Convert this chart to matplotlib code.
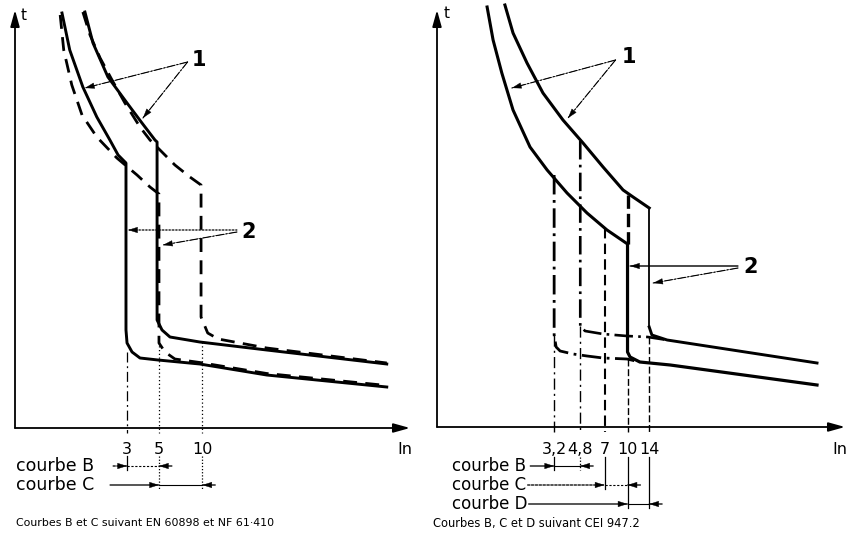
import matplotlib
matplotlib.use("Agg")
import matplotlib.pyplot as plt
import numpy as np

W, H, DPI = 852, 548, 100
plt.rcParams['font.family'] = ['DejaVu Sans']

# ---------------- left diagram: curves B and C (EN 60898 solid, NF C 61-410 dashed) ----------------
left_ticks = [3, 5, 10]
left_tick_labels = ["3", "5", "10"]

# current in multiples of In (log axis), tripping time in relative units
en_b_in = [1.06, 1.20, 1.48, 1.85, 2.28, 2.60, 2.95, 2.95, 3.00, 3.25, 3.69, 4.92, 9.6, 28.0, 191.0]
en_b_t = [415, 378, 341, 311, 288, 273, 265, 98, 85, 76, 70, 68, 64, 53, 41]

en_c_in = [1.53, 1.74, 2.21, 3.00, 3.81, 4.69, 4.85, 4.85, 5.25, 5.96, 9.6, 28.0, 191.0]
en_c_t = [416, 385, 351, 325, 305, 288, 286, 108, 98, 91, 86, 78, 64]

nf_b_in = [1.03, 1.09, 1.24, 1.46, 1.85, 2.55, 3.52, 4.33, 5.0, 5.0, 5.5, 6.45, 9.6, 28.0, 191.0]
nf_b_t = [413, 378, 343, 313, 291, 270, 253, 241, 234, 85, 76, 69, 65.5, 54.5, 42.5]

nf_c_in = [1.48, 1.66, 1.95, 2.36, 2.90, 3.69, 4.33, 5.08, 6.45, 8.2, 9.8, 9.8, 10.9, 12.9, 28.0, 191.0]
nf_c_t = [416, 393, 370, 348, 325, 301, 288, 278, 263, 251, 243, 111, 95, 89, 80, 65]

left_guide_top = [76, 86, 86]          # where the drop lines to the axis start
left_rows = {"courbe B": (3, 5), "courbe C": (5, 10)}

# ---------------- right diagram: curves B, C and D (CEI 947.2) ----------------
right_ticks = [3.2, 4.8, 7, 10, 14]
right_tick_labels = ["3,2", "4,8", "7", "10", "14"]

therm_low_in = [1.13, 1.24, 1.42, 1.69, 2.20, 2.87, 3.91, 5.33, 7.27, 10.0]
therm_low_t = [420, 387, 354, 317, 280, 257, 234, 214, 197, 183]
therm_up_in = [1.49, 1.69, 2.10, 2.69, 3.67, 5.01, 6.84, 9.33, 10.9, 14.0]
therm_up_t = [422, 394, 364, 334, 307, 284, 260, 237, 230, 219]

b_low_in = [3.2, 3.2, 3.30, 3.51, 4.29, 5.33, 6.84, 9.92, 12.1]
b_low_t = [252, 92, 80, 76, 73, 71, 69, 68, 65]
b_up_in = [4.8, 4.8, 5.17, 6.84, 9.92, 13.7, 18.5]
b_up_t = [286, 101, 96, 93, 91, 90, 87]

c_low_in, c_low_t = [7, 7], [199, -5]
c_up_in, c_up_t = [10, 10], [232, 183]

d_low_in = [10, 10, 10.4, 12.1, 19.4, 189.6]
d_low_t = [183, 75, 70, 65, 62, 42]
d_up_vert_in, d_up_vert_t = [14, 14], [219, 100]
d_up_in = [14, 14.6, 18.5, 189.6]
d_up_t = [100, 92, 87, 64]

right_rows = {"courbe B": (3.2, 4.8), "courbe C": (7, 10), "courbe D": (10, 14)}

fig = plt.figure(figsize=(W / DPI, H / DPI), dpi=DPI)
fig.patch.set_facecolor("white")


def px_axes(x0, x1, ytop, ybot):
    return fig.add_axes([x0 / W, 1 - ybot / H, (x1 - x0) / W, (ybot - ytop) / H])


axL = px_axes(15, 410, 10, 428)
axR = px_axes(437, 845, 10, 427)
axL.set_xscale("log"); axR.set_xscale("log")
axL.set_xlim(0.5, 277); axL.set_ylim(0, 418)
axR.set_xlim(0.519, 292.8); axR.set_ylim(0, 417)
for ax in (axL, axR):
    ax.set_axis_off()

K = "black"
AX_HEAD = "-|>,head_length=0.9,head_width=0.25"
SMALL_HEAD = "-|>,head_length=0.7,head_width=0.22"


def axis_arrows(ax):
    kw = dict(arrowstyle=AX_HEAD, color=K, lw=1.3, shrinkA=0, shrinkB=0, mutation_scale=11)
    ax.annotate("", xy=(0, 1), xytext=(0, 0), xycoords="axes fraction", arrowprops=kw)
    ax.annotate("", xy=(1, 0), xytext=(0, 0), xycoords="axes fraction", arrowprops=kw)


def arrow(ax, start, end, ls="-", lw=0.8, coords="data", head=SMALL_HEAD):
    base = dict(shrinkA=0, shrinkB=0, color=K)
    ax.annotate("", xy=end, xytext=start, textcoords=coords, annotation_clip=False,
                arrowprops=dict(arrowstyle="-", ls=ls, lw=lw, **base))
    ax.annotate("", xy=end, xytext=start, textcoords=coords, annotation_clip=False,
                arrowprops=dict(arrowstyle=head, lw=0.3, mutation_scale=9, **base))


def curve(ax, x, y, lw=2.0, ls="-"):
    ax.plot(x, y, color=K, lw=lw, ls=ls, solid_joinstyle="round",
            dash_capstyle="butt", clip_on=False)


DASH = (0, (5, 3))
DASHDOT = (0, (7, 2, 1, 2))
THIN_DD = (0, (8, 3, 1.5, 3))

# ---- left drawing ----
axis_arrows(axL)
curve(axL, en_b_in, en_b_t, lw=2.1)
curve(axL, en_c_in, en_c_t, lw=2.1)
curve(axL, nf_b_in, nf_b_t, lw=2.0, ls=DASH)
curve(axL, nf_c_in, nf_c_t, lw=2.0, ls=DASH)
guide_styles = [THIN_DD, (0, (1, 2)), (0, (1, 2))]
for v, top, st in zip(left_ticks, left_guide_top, guide_styles):
    axL.plot([v, v], [top, -5], color=K, lw=0.9, ls=st, clip_on=False)
for v, lab in zip(left_ticks, left_tick_labels):
    axL.text(v, -21, lab, ha="center", va="center", fontsize=11.5)

row_y = {"courbe B": -38, "courbe C": -57}
row_styles = {"courbe B": (0, (2, 1.5)), "courbe C": "-"}
tail_px = {"courbe B": -14, "courbe C": -49}
for name, (lo, hi) in left_rows.items():
    y = row_y[name]
    st = row_styles[name]
    fig.text(16 / W, 1 - (428 - y) / H, name, ha="left", va="center", fontsize=12.5)
    arrow(axL, (tail_px[name], 0), (lo, y), ls=st, coords="offset pixels")
    axL.plot([lo, hi], [y, y], color=K, lw=0.8, ls=st, clip_on=False)
    arrow(axL, (13, 0), (hi, y), ls="-", coords="offset pixels")
axL.plot([3, 3], [-28, -42], color=K, lw=0.9, clip_on=False)
axL.plot([5, 5], [-28, -62], color=K, lw=0.9, ls=(0, (1, 1.5)), clip_on=False)
axL.plot([10, 10], [-28, -62], color=K, lw=0.9, ls=(0, (1, 1.5)), clip_on=False)

# reference marks 1 and 2
axL.text(9.5, 368, "1", fontsize=15, fontweight="bold", ha="center", va="center")
arrow(axL, (7.9, 366), (1.53, 340), ls=DASHDOT, lw=0.8)
arrow(axL, (7.9, 366), (3.87, 310), ls=DASHDOT, lw=0.8)
axL.text(21, 196, "2", fontsize=15, fontweight="bold", ha="center", va="center")
arrow(axL, (17.4, 198), (3.05, 198), ls=(0, (1, 2)), lw=0.8)
arrow(axL, (17.4, 196), (5.33, 183), ls=DASHDOT, lw=0.8)

fig.text(24 / W, 1 - 15 / H, "t", fontsize=11, ha="center", va="center")
fig.text(405 / W, 1 - 449 / H, "In", fontsize=11.5, ha="center", va="center")
fig.text(16 / W, 1 - 523 / H, "Courbes B et C suivant EN 60898 et NF 61\u00b7410",
         fontsize=7.9, ha="left", va="center")

# ---- right drawing ----
axis_arrows(axR)
curve(axR, therm_low_in, therm_low_t, lw=2.2)
curve(axR, therm_up_in, therm_up_t, lw=2.2)
curve(axR, b_low_in, b_low_t, lw=2.0, ls=DASHDOT)
curve(axR, b_up_in, b_up_t, lw=1.9, ls=DASHDOT)
curve(axR, c_low_in, c_low_t, lw=1.5, ls=(0, (5, 2.5)))
curve(axR, c_up_in, c_up_t, lw=2.4, ls=(0, (4, 1.5)))
curve(axR, d_low_in, d_low_t, lw=2.3)
curve(axR, d_up_vert_in, d_up_vert_t, lw=1.3)
curve(axR, d_up_in, d_up_t, lw=2.1)
# drop lines below the bends down to the axis
axR.plot([3.2, 3.2], [92, -5], color=K, lw=1.0, ls=THIN_DD, clip_on=False)
axR.plot([4.8, 4.8], [101, -5], color=K, lw=1.0, ls=THIN_DD, clip_on=False)
axR.plot([10, 10], [68, -5], color=K, lw=1.0, ls=(0, (5, 2)), clip_on=False)
axR.plot([14, 14], [90, -5], color=K, lw=1.0, ls=(0, (5, 2)), clip_on=False)
for v, lab in zip(right_ticks, right_tick_labels):
    axR.text(v, -22, lab, ha="center", va="center", fontsize=11.5)

rrow_y = {"courbe B": -39, "courbe C": -58, "courbe D": -77}
rrow_styles = {"courbe B": "-", "courbe C": (0, (2, 1.5)), "courbe D": "-"}
rtail_px = {"courbe B": -24, "courbe C": -77, "courbe D": -99}
for name, (lo, hi) in right_rows.items():
    y = rrow_y[name]
    st = rrow_styles[name]
    fig.text(452 / W, 1 - (427 - y) / H, name, ha="left", va="center", fontsize=12)
    arrow(axR, (rtail_px[name], 0), (lo, y), ls=st, coords="offset pixels")
    axR.plot([lo, hi], [y, y], color=K, lw=0.8, ls=st, clip_on=False)
    arrow(axR, (13, 0), (hi, y), ls="-", coords="offset pixels")
axR.plot([3.2, 3.2], [-30, -43], color=K, lw=0.9, clip_on=False)
axR.plot([4.8, 4.8], [-30, -43], color=K, lw=0.9, ls=(0, (1, 1.5)), clip_on=False)
axR.plot([7, 7], [-30, -62], color=K, lw=0.9, clip_on=False)
axR.plot([10, 10], [-30, -81], color=K, lw=0.9, clip_on=False)
axR.plot([14, 14], [-30, -81], color=K, lw=0.9, clip_on=False)

axR.text(10.2, 370, "1", fontsize=15, fontweight="bold", ha="center", va="center")
arrow(axR, (8.3, 367), (1.66, 339), ls=DASHDOT, lw=0.8)
arrow(axR, (8.3, 367), (3.97, 309), ls=DASHDOT, lw=0.8)
axR.text(68, 160, "2", fontsize=15, fontweight="bold", ha="center", va="center")
arrow(axR, (55.6, 161), (10.4, 161), ls="-", lw=0.9)
arrow(axR, (55.6, 159), (14.9, 144), ls=DASHDOT, lw=0.8)

fig.text(447 / W, 1 - 13 / H, "t", fontsize=11, ha="center", va="center")
fig.text(840 / W, 1 - 449 / H, "In", fontsize=11.5, ha="center", va="center")
fig.text(433 / W, 1 - 523 / H, "Courbes B, C et D suivant CEI 947.2",
         fontsize=8.3, ha="left", va="center")

fig.savefig("out.png", dpi=DPI, facecolor="white")
